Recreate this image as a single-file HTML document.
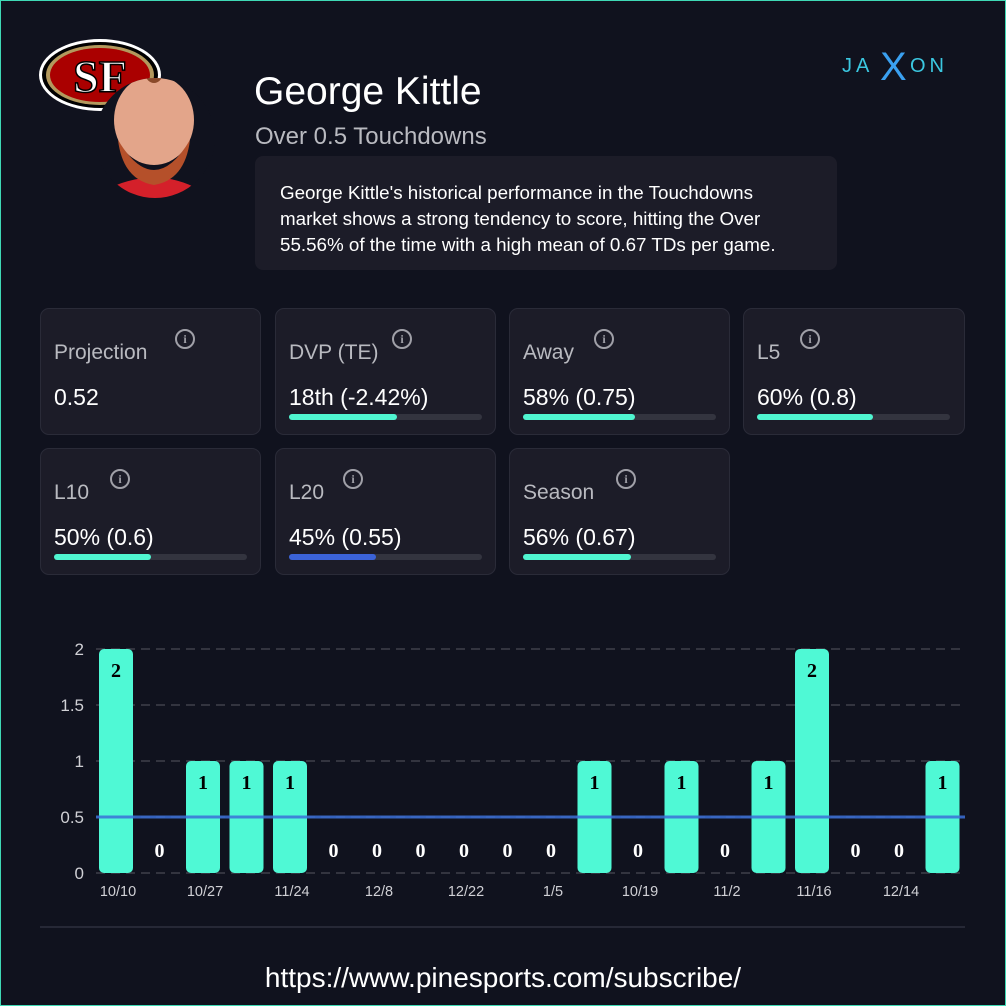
<!DOCTYPE html>
<html><head><meta charset="utf-8"><style>
body{margin:0;width:1006px;height:1006px;background:#10121e;font-family:"Liberation Sans",sans-serif;overflow:hidden;position:relative}
.frame{position:absolute;left:0;top:0;width:1004px;height:1004px;border:1px solid #3fd9b5}
.card{position:absolute;width:221px;height:127px;background:#1c1c28;border:1px solid #2a2b38;border-radius:9px;box-sizing:border-box}
.card .t{position:absolute;left:13px;top:32px;font-size:21px;color:#b9bac0}
.card .v{position:absolute;left:13px;top:75px;font-size:23px;color:#fff}
.card .i{position:absolute;top:20px;width:20px;height:20px;border:2px solid #a0a0a8;border-radius:50%;box-sizing:border-box;color:#a0a0a8;font:bold 12px "Liberation Serif",serif;text-align:center;line-height:16px}
.card .b{position:absolute;left:13px;top:105px;width:193px;height:6px;border-radius:3px;background:#33343f}
.card .b div{height:100%;border-radius:3px;background:#4ff5d0}
</style></head><body>
<div class="frame"></div>
<svg style="position:absolute;left:0;top:0" width="1006" height="200">
<ellipse cx="100" cy="75" rx="61" ry="36" fill="#fff"/>
<ellipse cx="100" cy="75" rx="58" ry="33" fill="#000"/>
<ellipse cx="100" cy="75" rx="54" ry="30" fill="#b3995d"/>
<ellipse cx="100" cy="75" rx="50" ry="27" fill="#aa0000"/>
<text x="100" y="92" text-anchor="middle" font-family="Liberation Serif" font-weight="bold" font-size="46" fill="#fff" stroke="#000" stroke-width="1.5">SF</text>
<clipPath id="c"><circle cx="155" cy="138" r="60"/></clipPath>
<g clip-path="url(#c)">
<rect x="95" y="78" width="120" height="120" fill="#10121e"/>
<path d="M105 190 Q155 165 200 190 L200 200 L105 200Z" fill="#d4202a"/>
<ellipse cx="154" cy="120" rx="40" ry="45" fill="#e3a58a"/>
<path d="M118 140 Q154 200 190 140 Q185 180 154 185 Q123 180 118 140Z" fill="#b5502a"/>
<circle cx="154" cy="75" r="8" fill="#8a4a2a"/>
</g>
<text x="842" y="72" font-size="20" fill="#3bc7e0" letter-spacing="4">JA</text>
<text x="880" y="80" font-size="40" fill="#3aa0f0">X</text>
<text x="910" y="72" font-size="20" fill="#3bc7e0" letter-spacing="4">ON</text>
</svg>
<div style="position:absolute;left:254px;top:70px;font-size:39px;color:#fff">George Kittle</div>
<div style="position:absolute;left:255px;top:123px;font-size:24px;color:#b9bac0">Over 0.5 Touchdowns</div>
<div style="position:absolute;left:255px;top:156px;width:582px;height:114px;background:#1c1c28;border-radius:8px;box-sizing:border-box;padding:24px 0 0 25px;font-size:18.8px;line-height:26px;color:#fff;white-space:nowrap">George Kittle's historical performance in the Touchdowns<br>market shows a strong tendency to score, hitting the Over<br>55.56% of the time with a high mean of 0.67 TDs per game.</div>

<div class="card" style="left:40px;top:308px"><div class="t">Projection</div><div class="i" style="left:134px">i</div><div class="v">0.52</div></div>
<div class="card" style="left:275px;top:308px"><div class="t">DVP (TE)</div><div class="i" style="left:116px">i</div><div class="v">18th (-2.42%)</div><div class="b"><div style="width:56%"></div></div></div>
<div class="card" style="left:509px;top:308px"><div class="t">Away</div><div class="i" style="left:84px">i</div><div class="v">58% (0.75)</div><div class="b"><div style="width:58%"></div></div></div>
<div class="card" style="left:743px;top:308px;width:222px"><div class="t">L5</div><div class="i" style="left:56px">i</div><div class="v">60% (0.8)</div><div class="b"><div style="width:60%"></div></div></div>
<div class="card" style="left:40px;top:448px"><div class="t">L10</div><div class="i" style="left:69px">i</div><div class="v">50% (0.6)</div><div class="b"><div style="width:50%"></div></div></div>
<div class="card" style="left:275px;top:448px"><div class="t">L20</div><div class="i" style="left:67px">i</div><div class="v">45% (0.55)</div><div class="b"><div style="width:45%;background:#3b63d8"></div></div></div>
<div class="card" style="left:509px;top:448px"><div class="t">Season</div><div class="i" style="left:106px">i</div><div class="v">56% (0.67)</div><div class="b"><div style="width:56%"></div></div></div>

<svg style="position:absolute;left:0;top:600px" width="1006" height="340">
<g stroke="#33343f" stroke-width="2" stroke-dasharray="9,6">
<line x1="96" x2="965" y1="49" y2="49"/><line x1="96" x2="965" y1="105" y2="105"/><line x1="96" x2="965" y1="161" y2="161"/><line x1="96" x2="965" y1="217" y2="217"/><line x1="96" x2="965" y1="273" y2="273"/>
</g>
<g font-size="17" fill="#d0d0d5" text-anchor="end">
<text x="84" y="55">2</text><text x="84" y="111">1.5</text><text x="84" y="167">1</text><text x="84" y="223">0.5</text><text x="84" y="279">0</text>
</g>
<g id="bars"></g>
<line x1="96" x2="965" y1="217" y2="217" stroke="#3b6fd8" stroke-width="3" opacity="0.85"/>
<g id="lbl" font-family="Liberation Serif" font-weight="bold" font-size="20" text-anchor="middle"></g>
<g id="xl" font-size="14.5" fill="#d0d0d5" text-anchor="middle"></g>
<line x1="40" x2="965" y1="327" y2="327" stroke="#262836" stroke-width="2"/>
</svg>
<script>
var v=[2,0,1,1,1,0,0,0,0,0,0,1,0,1,0,1,2,0,0,1],d=["10/10","10/27","11/24","12/8","12/22","1/5","10/19","11/2","11/16","12/14"];
var b="",l="",x="";
for(var i=0;i<20;i++){var c=116+i*43.5;
if(v[i]>0){var h=v[i]*112;b+='<rect x="'+(c-17)+'" y="'+(273-h)+'" width="34" height="'+h+'" rx="5" fill="#4ff9d5"/>';l+='<text x="'+c+'" y="'+(273-h+28)+'" fill="#000">'+v[i]+'</text>';}
else l+='<text x="'+c+'" y="257" fill="#fff">0</text>';
if(i%2==0)x+='<text x="'+(c+2)+'" y="296">'+d[i/2]+'</text>';}
document.getElementById("bars").innerHTML=b;document.getElementById("lbl").innerHTML=l;document.getElementById("xl").innerHTML=x;
</script>
<div style="position:absolute;left:0;width:1006px;top:962px;text-align:center;font-size:28px;color:#fff">https://www.pinesports.com/subscribe/</div>
</body></html>
